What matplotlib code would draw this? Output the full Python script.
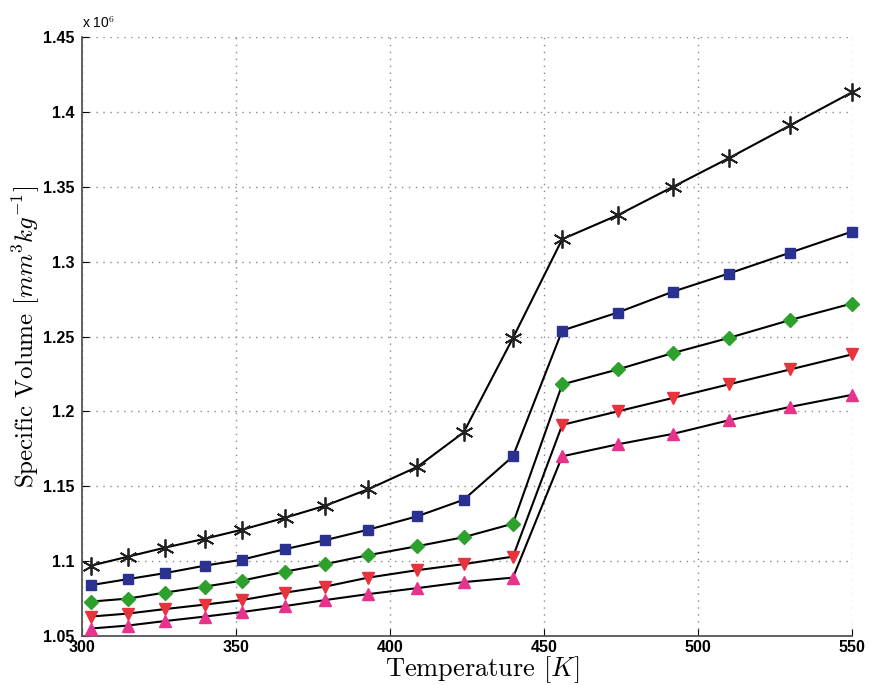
import numpy as np
import matplotlib
matplotlib.use("Agg")
import matplotlib.pyplot as plt
from matplotlib.ticker import FuncFormatter

# temperatures (K) where the points were taken
temps = [303, 315, 327, 340, 352, 366, 379, 393, 409, 424, 440, 456, 474, 492, 510, 530, 550]

# specific volume, x 10^6 mm^3/kg
vol_star = [1.097, 1.103, 1.109, 1.115, 1.121, 1.129, 1.137, 1.148, 1.163, 1.186, 1.249,
            1.315, 1.331, 1.350, 1.369, 1.391, 1.413]
vol_square = [1.084, 1.088, 1.092, 1.097, 1.101, 1.108, 1.114, 1.121, 1.130, 1.141, 1.170,
              1.254, 1.266, 1.280, 1.292, 1.306, 1.320]
vol_diamond = [1.073, 1.075, 1.079, 1.083, 1.087, 1.093, 1.098, 1.104, 1.110, 1.116, 1.125,
               1.218, 1.228, 1.239, 1.249, 1.261, 1.272]
vol_down = [1.063, 1.065, 1.068, 1.071, 1.074, 1.079, 1.083, 1.089, 1.094, 1.098, 1.103,
            1.191, 1.200, 1.209, 1.218, 1.228, 1.238]
vol_up = [1.055, 1.057, 1.060, 1.063, 1.066, 1.070, 1.074, 1.078, 1.082, 1.086, 1.089,
          1.170, 1.178, 1.185, 1.194, 1.203, 1.211]

plt.rcParams['mathtext.fontset'] = 'cm'

fig = plt.figure(figsize=(8.7, 6.85), dpi=100)
ax = fig.add_axes([0.094, 0.0715, 0.885, 0.8745])

t = np.array(temps)
series = [
    (vol_star, dict(marker=(6, 2, 0), markersize=13, markeredgewidth=1.3, color='black', markeredgecolor='#222222')),
    (vol_square, dict(marker='s', markersize=6.5, markerfacecolor='#2b3190', markeredgecolor='#2b3190')),
    (vol_diamond, dict(marker='D', markersize=7.5, markerfacecolor='#2ea02e', markeredgecolor='#2ea02e')),
    (vol_down, dict(marker='v', markersize=9, markerfacecolor='#e8323c', markeredgecolor='#e8323c')),
    (vol_up, dict(marker='^', markersize=9, markerfacecolor='#e8338c', markeredgecolor='#e8338c')),
]
for vals, style in series:
    style.setdefault('color', 'black')
    ax.plot(t, np.array(vals) * 1e6, '-', linewidth=1.5, zorder=3, clip_on=False, **style)

ax.set_xlim(300, 550)
ax.set_ylim(1.05e6, 1.45e6)
ax.set_xticks(np.arange(300, 551, 50))
ax.set_yticks(np.arange(1.05e6, 1.451e6, 0.05e6))
ax.yaxis.set_major_formatter(FuncFormatter(lambda v, p: f'{v / 1e6:g}'))

ax.grid(True, linestyle=(0, (1, 4)), color='#888888', linewidth=1)
ax.spines['top'].set_visible(False)
ax.spines['right'].set_visible(False)
ax.spines['left'].set_color('#555555')
ax.spines['bottom'].set_color('#555555')
ax.spines['left'].set_linewidth(1.3)
ax.spines['bottom'].set_linewidth(1.3)
ax.tick_params(direction='in', length=5, labelsize=11.5, pad=5)
ax.tick_params(axis='x', pad=3)
for lab in ax.get_xticklabels() + ax.get_yticklabels():
    lab.set_fontfamily('Liberation Sans')
    lab.set_fontweight('bold')

ax.text(0.0, 1.01, 'x 10$^{6}$', transform=ax.transAxes, fontsize=10,
        fontfamily='Liberation Sans', va='bottom', ha='left')

ax.set_xlabel('Temperature [$K$]', fontsize=19, fontfamily='cmr10')
ax.xaxis.set_label_coords(0.52, -0.031)
ax.xaxis.label.set_va('top')
ax.set_ylabel('Specific Volume [$mm^3kg^{-1}$]', fontsize=18, fontfamily='cmr10')
ax.yaxis.set_label_coords(-0.072, 0.5)
ax.yaxis.label.set_va('center')

fig.savefig('out.png', dpi=100)
